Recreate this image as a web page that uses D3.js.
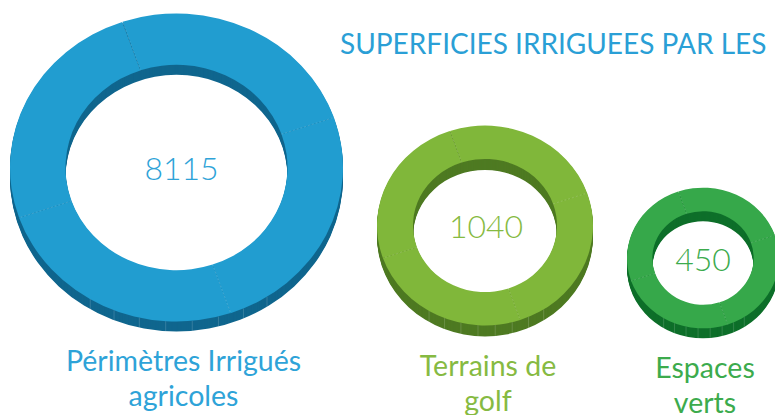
<!DOCTYPE html>
<html>
<head>
<meta charset="utf-8">
<script src="https://cdn.jsdelivr.net/npm/d3@7"></script>
<style>
  body { margin: 0; background: #fff; }
  svg { display: block; }
  .title { font-family: Lato, "Open Sans", sans-serif; font-size: 28px; }
  .value { font-family: Lato, sans-serif; font-weight: 300; font-size: 32px; }
  .label { font-family: Lato, "Open Sans", sans-serif; font-size: 28.5px; }
</style>
</head>
<body>
<svg width="775" height="415"></svg>
<script>
// **** data ****
var titleText = "SUPERFICIES IRRIGUEES PAR LES";
var categories = ["Périmètres Irrigués agricoles", "Terrains de golf", "Espaces verts"];
var labelLines = [["Périmètres Irrigués", "agricoles"], ["Terrains de", "golf"], ["Espaces", "verts"]];
var values = [8115, 1040, 450];

var topColors = ["#219dd0", "#80b73a", "#36a84a"];
var sideColors = ["#10668e", "#4e7a22", "#0e6f2a"];
var textColors = ["#2ea3d8", "#86ba42", "#3cab4d"];

// **** scales ****
var radiusScale = d3.scaleLinear()
    .domain([450, 1040, 8115]).range([76, 108, 166.5]);

var xScale = d3.scaleOrdinal()
    .domain(categories).range([176.5, 485, 703]);

var yScale = d3.scaleOrdinal()
    .domain(categories).range([167.5, 225.5, 258]);

var depthScale = d3.scaleOrdinal()
    .domain(categories).range([10, 11, 10]);

// text sits a little right of the big ring's centre
var textShift = d3.scaleOrdinal()
    .domain(categories).range([5, 1, 0]);

var squash = 0.925; // ellipse ratio of the ring (tilt)
var holeRatio = 2 / 3;

var svg = d3.select("svg");

svg.append("text")
    .attr("class", "title")
    .attr("x", 340)
    .attr("y", 54)
    .attr("fill", "#2a9fd6")
    .text(titleText);

var rings = svg.selectAll("g.ring")
    .data(values)
    .enter()
    .append("g")
    .attr("class", "ring");

rings.each(function(d, i) {
    var g = d3.select(this);
    var cat = categories[i];
    var r = radiusScale(d);
    var cx = xScale(cat), cy = yScale(cat), depth = depthScale(cat);

    var ring = d3.arc().innerRadius(r * holeRatio).outerRadius(r)
        .startAngle(0).endAngle(2 * Math.PI);

    // side wall: stacked copies of the ring, shifted down
    for (var dy = depth; dy > 0; dy--) {
        g.append("path")
            .attr("d", ring())
            .attr("transform", "translate(" + cx + "," + (cy + dy) + ") scale(1," + squash + ")")
            .attr("fill", sideColors[i]);
    }

    // faint seam lines on the wall
    var seams = [-0.33, 1.24, 2.81, 4.38];
    var wallTicks = d3.range(8).map(function(k) { return -1.15 + k * 0.32; });
    wallTicks.forEach(function(a) {
        var ang = Math.PI / 2 + a * 0.5;
        var px = cx + r * Math.cos(ang) * 0.999;
        var py = cy + r * Math.sin(ang) * squash;
        if (Math.sin(ang) > 0.15) {
            g.append("line")
                .attr("x1", px).attr("x2", px)
                .attr("y1", py).attr("y2", py + depth)
                .attr("stroke", "rgba(255,255,255,0.2)")
                .attr("stroke-width", 0.8);
        }
    });

    // top face, in four quarters
    var top = g.append("g")
        .attr("transform", "translate(" + cx + "," + cy + ") scale(1," + squash + ")");
    seams.forEach(function(s) {
        top.append("path")
            .attr("d", d3.arc().innerRadius(r * holeRatio).outerRadius(r)
                .startAngle(s).endAngle(s + Math.PI / 2)())
            .attr("fill", topColors[i]);
    });
    seams.forEach(function(s) {
        var a = s - Math.PI / 2;
        top.append("line")
            .attr("x1", r * holeRatio * Math.cos(a)).attr("y1", r * holeRatio * Math.sin(a))
            .attr("x2", r * Math.cos(a)).attr("y2", r * Math.sin(a))
            .attr("stroke", "rgba(255,255,255,0.22)")
            .attr("stroke-width", 0.8)
            .attr("stroke-dasharray", "2,2");
    });

    g.append("text")
        .attr("class", "value")
        .attr("x", cx + textShift(cat))
        .attr("y", cy + 12.5)
        .attr("text-anchor", "middle")
        .attr("fill", textColors[i])
        .text(d);

    var ly = cy + r * squash + depth + 39.5;
    labelLines[i].forEach(function(line, j) {
        g.append("text")
            .attr("class", "label")
            .attr("x", cx + textShift(cat) + 2)
            .attr("y", ly + j * 35)
            .attr("text-anchor", "middle")
            .attr("fill", textColors[i])
            .text(line);
    });
});
</script>
</body>
</html>
